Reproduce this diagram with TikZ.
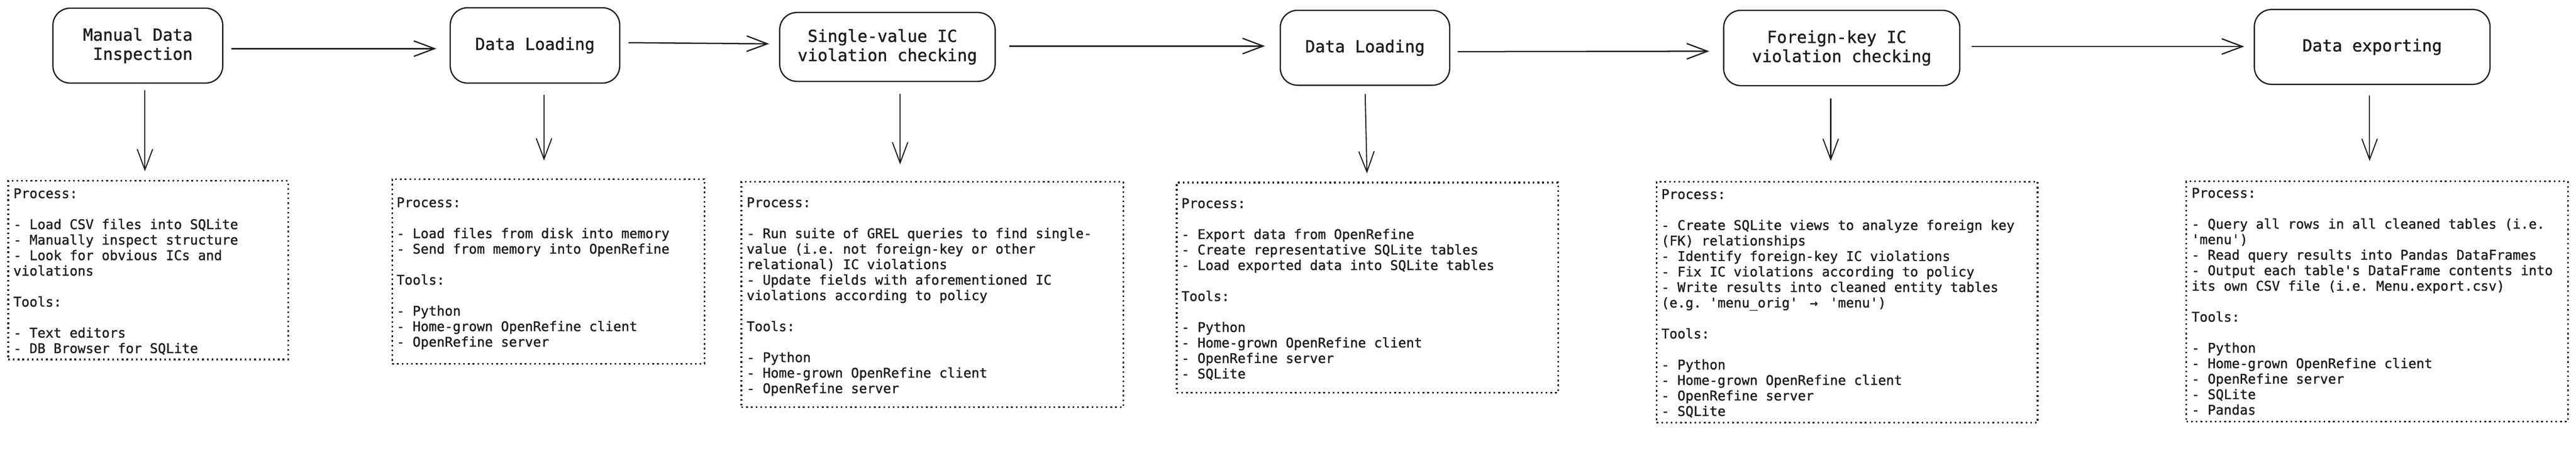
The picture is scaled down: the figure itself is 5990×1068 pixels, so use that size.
\documentclass[tikz,border=0pt]{standalone}
\usepackage{fontspec}
\setmonofont{DejaVu Sans Mono}[RawFeature={embolden=1.2}]
\usetikzlibrary{arrows.meta}
\definecolor{ink}{HTML}{1E1E1E}

\begin{document}
\begin{tikzpicture}[x=1pt, y=-1pt,
    stage/.style={draw=ink, text=ink, line width=3pt, rounded corners=40pt,
        align=center, inner sep=0pt, font=\fontsize{38.5}{44.5}\selectfont\ttfamily},
    note/.style={draw=ink, line width=4pt, dash pattern=on 4pt off 7pt, inner sep=0pt},
    notetext/.style={anchor=north west, align=left, inner sep=0pt, text=ink,
        font=\fontsize{31}{36}\selectfont\ttfamily},
    flowarrow/.style={draw=ink, line width=3pt, -{Straight Barb[length=48pt, width=36pt]}},
    downarrow/.style={flowarrow, line width=2.5pt}]

        % drawing parameters
        \def\gap{36pt} % one empty line in the notes
        \def\top{\rule{0pt}{26pt}} % fixes the height of the first line

        \useasboundingbox (0,0) rectangle (5990,1068);

        % the stages
        \node[stage, minimum width=395pt, minimum height=174pt] (insp) at (320.5,106) {Manual Data\\\phantom{M}Inspection};
        \node[stage, minimum width=394pt, minimum height=175pt] (load1) at (1244,105.5) {Data Loading};
        \node[stage, minimum width=501pt, minimum height=160pt] (single) at (2063.5,109) {Single-value IC\phantom{M}\\violation checking};
        \node[stage, minimum width=394pt, minimum height=174pt] (load2) at (3174,111) {Data Loading};
        \node[stage, minimum width=549pt, minimum height=175pt] (foreign) at (4282.5,111.5) {Foreign-key IC\phantom{M}\\violation checking};
        \node[stage, minimum width=548pt, minimum height=174pt] (export) at (5516,109) {Data exporting};

        % the notes below each stage
        \node[note, minimum width=651pt, minimum height=415pt] (insp-note) at (344.5,627.5) {};
        \node[note, minimum width=726pt, minimum height=429pt] (load1-note) at (1275,630.5) {};
        \node[note, minimum width=888pt, minimum height=524pt] (single-note) at (2168,684) {};
        \node[note, minimum width=887pt, minimum height=488pt] (load2-note) at (3179.5,668) {};
        \node[note, minimum width=886pt, minimum height=560pt] (foreign-note) at (4295,702) {};
        \node[note, minimum width=887pt, minimum height=558pt] (export-note) at (5527.5,700) {};

        % text of the notes
        \node[notetext] (insp-text) at (31,434) {\top Process:\\[\gap]
            - Load CSV files into SQLite\\
            - Manually inspect structure\\
            - Look for obvious ICs and\\
            violations\\[\gap]
            Tools:\\[\gap]
            - Text editors\\
            - DB Browser for SQLite};
        \node[notetext] (load1-text) at (922,455) {\top Process:\\[\gap]
            - Load files from disk into memory\\
            - Send from memory into OpenRefine\\[\gap]
            Tools:\\[\gap]
            - Python\\
            - Home-grown OpenRefine client\\
            - OpenRefine server};
        \node[notetext] (single-text) at (1736,455) {\top Process:\\[\gap]
            - Run suite of GREL queries to find single-\\
            value (i.e. not foreign-key or other\\
            relational) IC violations\\
            - Update fields with aforementioned IC\\
            violations according to policy\\[\gap]
            Tools:\\[\gap]
            - Python\\
            - Home-grown OpenRefine client\\
            - OpenRefine server};
        \node[notetext] (load2-text) at (2747,457) {\top Process:\\[\gap]
            - Export data from OpenRefine\\
            - Create representative SQLite tables\\
            - Load exported data into SQLite tables\\[\gap]
            Tools:\\[\gap]
            - Python\\
            - Home-grown OpenRefine client\\
            - OpenRefine server\\
            - SQLite};
        \node[notetext] (foreign-text) at (3863,436) {\top Process:\\[\gap]
            - Create SQLite views to analyze foreign key\\
            (FK) relationships\\
            - Identify foreign-key IC violations\\
            - Fix IC violations according to policy\\
            - Write results into cleaned entity tables\\
            (e.g. 'menu\_orig' \makebox[1.204em]{→} 'menu')\\[\gap]
            Tools:\\[\gap]
            - Python\\
            - Home-grown OpenRefine client\\
            - OpenRefine server\\
            - SQLite};
        \node[notetext] (export-text) at (5096,433) {\top Process:\\[\gap]
            - Query all rows in all cleaned tables (i.e.\\
            'menu')\\
            - Read query results into Pandas DataFrames\\
            - Output each table's DataFrame contents into\\
            its own CSV file (i.e. Menu.export.csv)\\[\gap]
            Tools:\\[\gap]
            - Python\\
            - Home-grown OpenRefine client\\
            - OpenRefine server\\
            - SQLite\\
            - Pandas};

        % arrows between the stages
        \foreach \from/\to/\ya/\yb/\sa/\sb in {insp/load1/-7/-7.5/18/31,
                load1/single/6.5/7/19/23, single/load2/2/4/31/34,
                load2/foreign/-9/-7.5/17/32, foreign/export/3.5/1/26/22} {
            \draw[flowarrow, shorten <=\sa pt, shorten >=\sb pt]
                ([yshift=\ya pt]\from.east) -- ([yshift=\yb pt]\to.west);
        }

        % arrows down to the notes
        \foreach \from/\xa/\xb/\sa/\sb in {insp/16.5/16.5/15/20, load1/21/21/26/41,
                single/29.5/29.5/27/38, load2/0/5/19/19,
                foreign/-25.5/-25.5/28/46, export/-6/-6/24/45} {
            \draw[downarrow, shorten <=\sa pt, shorten >=\sb pt]
                ([xshift=\xa pt]\from.south) -- ([xshift=\xb pt]\from.south |- \from-note.north);
        }

\end{tikzpicture}
\end{document}
